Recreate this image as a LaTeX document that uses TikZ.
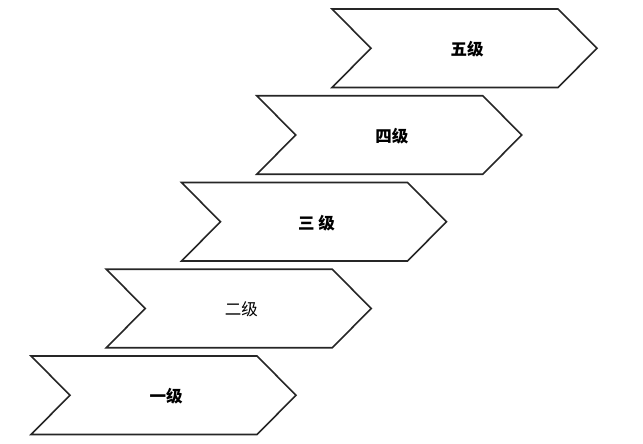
\documentclass[tikz,border=0pt]{standalone}
\usepackage{fontspec}
\newfontfamily\cjk{Noto Sans CJK SC}
\begin{document}
\begin{tikzpicture}[x=1pt,y=-1pt,
  chev/.style={draw=black!85,line width=1.6pt,fill=white,line join=miter},
  lbl/.style={font=\cjk\fontsize{16.5}{18}\selectfont,text=black,inner sep=0pt}]
\useasboundingbox (0,0) rectangle (643,444);
\foreach \i/\txt/\bf in {0/一级/1,1/二级/0,2/三\ 级/1,3/四级/1,4/五级/1}{
  \pgfmathsetmacro{\L}{31+75.25*\i}
  \pgfmathsetmacro{\T}{356-86.75*\i}
  \pgfmathsetmacro{\B}{\T+78.5}
  \pgfmathsetmacro{\M}{\T+39.25}
  \pgfmathsetmacro{\R}{\L+226}
  \draw[chev] (\L,\T) -- (\R,\T) -- (\R+39,\M) -- (\R,\B) -- (\L,\B) -- (\L+39,\M) -- cycle;
  \ifnum\bf=1
    \node[lbl,font=\cjk\bfseries\fontsize{16.5}{18}\selectfont] (t\i) at (\L+39+96,\M+1) {\txt};
  \else
    \node[lbl] (t\i) at (\L+39+96,\M+1) {\txt};
  \fi
}
\end{tikzpicture}
\end{document}
